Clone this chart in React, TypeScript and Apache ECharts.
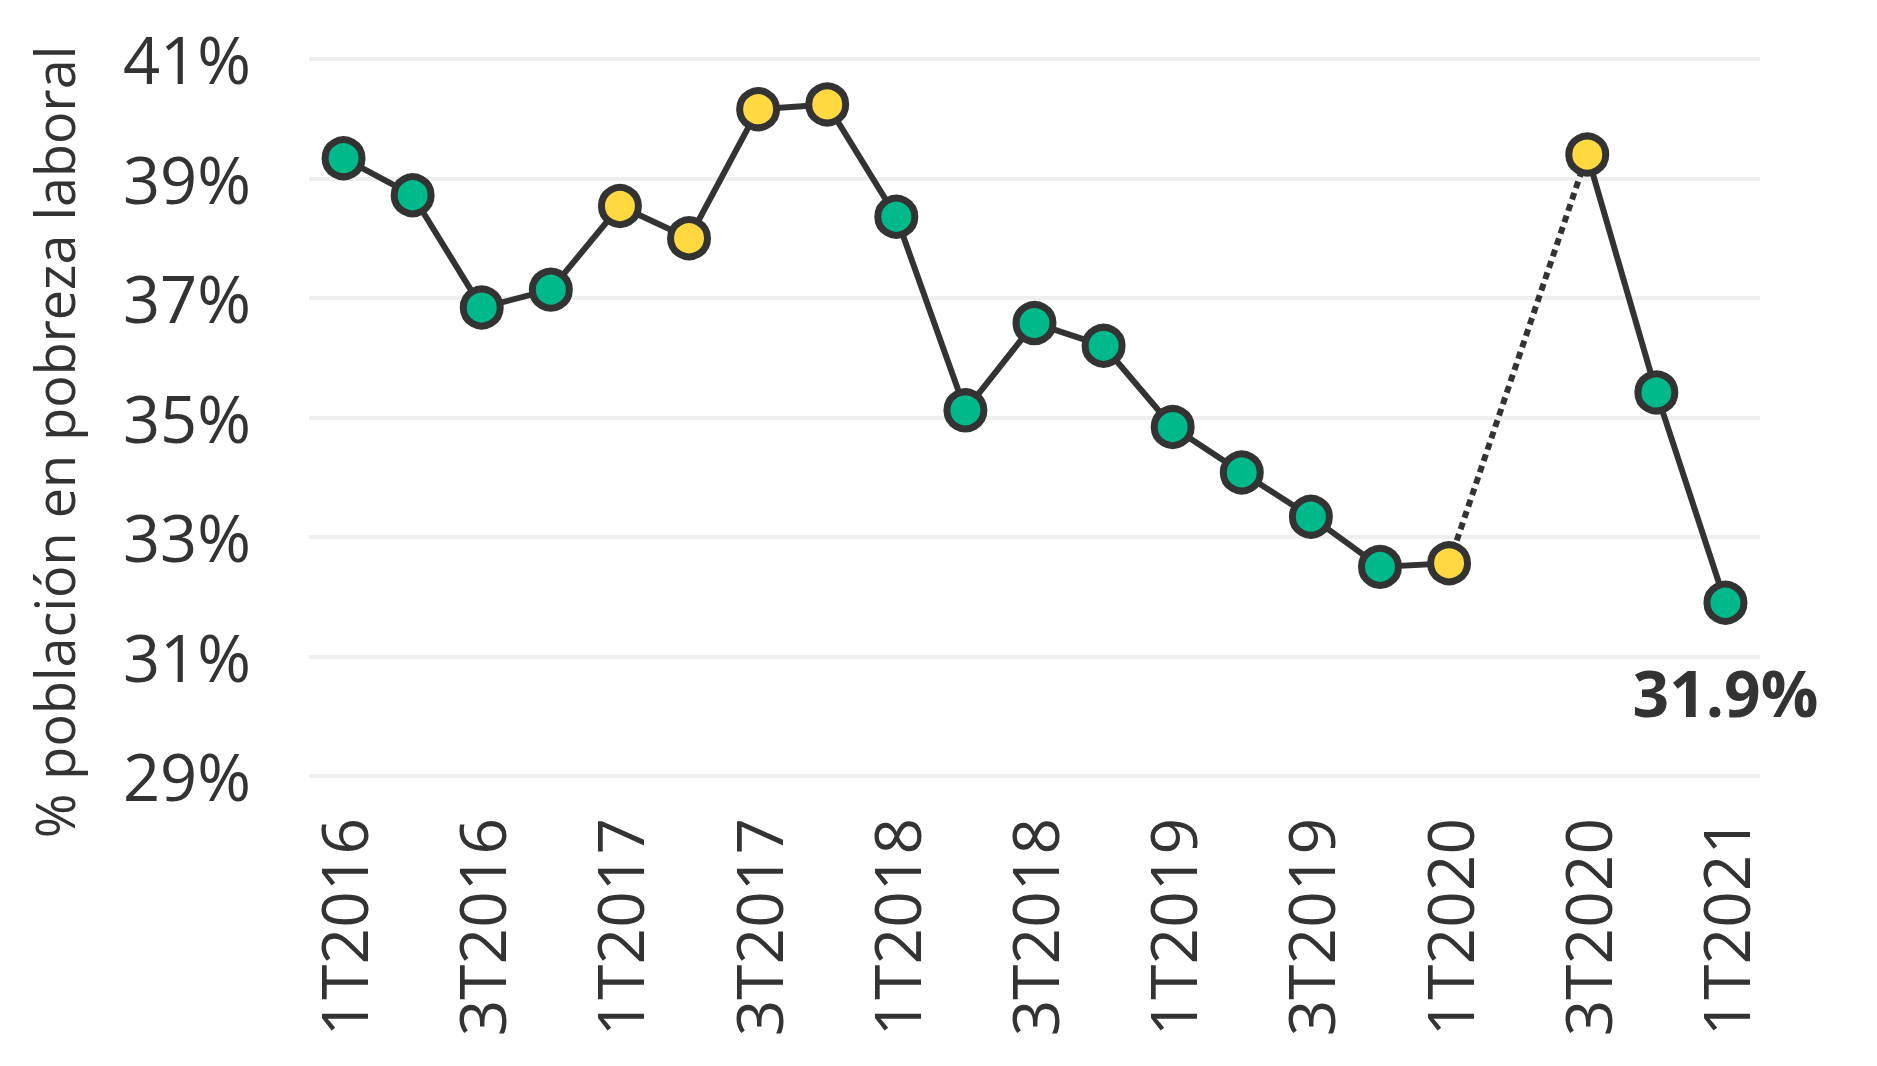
import React, { useEffect, useRef } from "react";
import * as echarts from "echarts";

const categories = [
  "1T2016", "2T2016", "3T2016", "4T2016",
  "1T2017", "2T2017", "3T2017", "4T2017",
  "1T2018", "2T2018", "3T2018", "4T2018",
  "1T2019", "2T2019", "3T2019", "4T2019",
  "1T2020", "2T2020", "3T2020", "4T2020",
  "1T2021",
];

const values: (number | null)[] = [
  39.34, 38.72, 36.84, 37.14,
  38.54, 38.0, 40.16, 40.24,
  38.36, 35.12, 36.58, 36.2,
  34.84, 34.08, 33.34, 32.5,
  32.56, null, 39.4, 35.42,
  31.9,
];

const highlighted = ["1T2017", "2T2017", "3T2017", "4T2017", "1T2020", "3T2020"];
const bridgeFrom = "1T2020";
const bridgeTo = "3T2020";
const labelledQuarter = "1T2021";

const yTicks = { min: 29, max: 41, interval: 2 };
const yAxisTitle = "% población en pobreza laboral";

const GREEN = "#00B98A";
const YELLOW = "#FFD93F";
const DARK = "#333333";
const FONT = "Open Sans";

export default function App() {
  const ref = useRef<HTMLDivElement>(null);

  useEffect(() => {
    if (!ref.current) return;
    const chart = echarts.init(ref.current, null, { renderer: "svg" });

    const mainData = values.map((v, i) => {
      const cat = categories[i];
      if (v === null) return null;
      const item: any = {
        value: v,
        itemStyle: {
          color: highlighted.includes(cat) ? YELLOW : GREEN,
          borderColor: DARK,
          borderWidth: 7,
        },
      };
      if (cat === labelledQuarter) {
        item.label = {
          show: true,
          position: "bottom",
          distance: 36,
          formatter: (p: any) => `${Number(p.value).toFixed(1)}%`,
          fontFamily: FONT,
          fontWeight: 700,
          fontSize: 64,
          color: DARK,
        };
      }
      return item;
    });

    const iFrom = categories.indexOf(bridgeFrom);
    const iTo = categories.indexOf(bridgeTo);
    const bridgeData = values.map((v, i) => (i >= iFrom && i <= iTo ? v : null));

    chart.setOption({
      animation: false,
      backgroundColor: "#ffffff",
      grid: { left: 309, right: 117, top: 59, bottom: 290, containLabel: false },
      xAxis: {
        type: "category",
        data: categories,
        boundaryGap: true,
        axisLine: { show: false },
        axisTick: { show: false },
        axisLabel: {
          interval: 1,
          rotate: 90,
          margin: 42,
          fontFamily: FONT,
          fontSize: 64,
          color: DARK,
        },
      },
      yAxis: {
        type: "value",
        min: yTicks.min,
        max: yTicks.max,
        interval: yTicks.interval,
        axisLine: { show: false },
        axisTick: { show: false },
        splitLine: { lineStyle: { color: "#EFEFEF", width: 4 } },
        axisLabel: {
          margin: 58,
          fontFamily: FONT,
          fontSize: 65,
          color: DARK,
          formatter: (v: number) => `${v}%`,
        },
      },
      graphic: [
        {
          type: "text",
          x: 54,
          y: 442,
          rotation: Math.PI / 2,
          style: {
            text: yAxisTitle,
            fontFamily: FONT,
            fontSize: 54,
            fill: DARK,
            textAlign: "center",
            textVerticalAlign: "middle",
          },
        },
      ],
      series: [
        {
          type: "line",
          data: bridgeData,
          connectNulls: true,
          showSymbol: false,
          symbol: "none",
          z: 1,
          lineStyle: { color: DARK, width: 6, type: [7, 5] },
          silent: true,
        },
        {
          type: "line",
          data: mainData,
          connectNulls: false,
          symbol: "circle",
          symbolSize: 37,
          z: 2,
          lineStyle: { color: DARK, width: 6 },
        },
      ],
    });

    return () => chart.dispose();
  }, []);

  return (
    <div
      ref={ref}
      style={{ position: "fixed", left: 0, top: 0, width: 1877, height: 1066 }}
    />
  );
}
